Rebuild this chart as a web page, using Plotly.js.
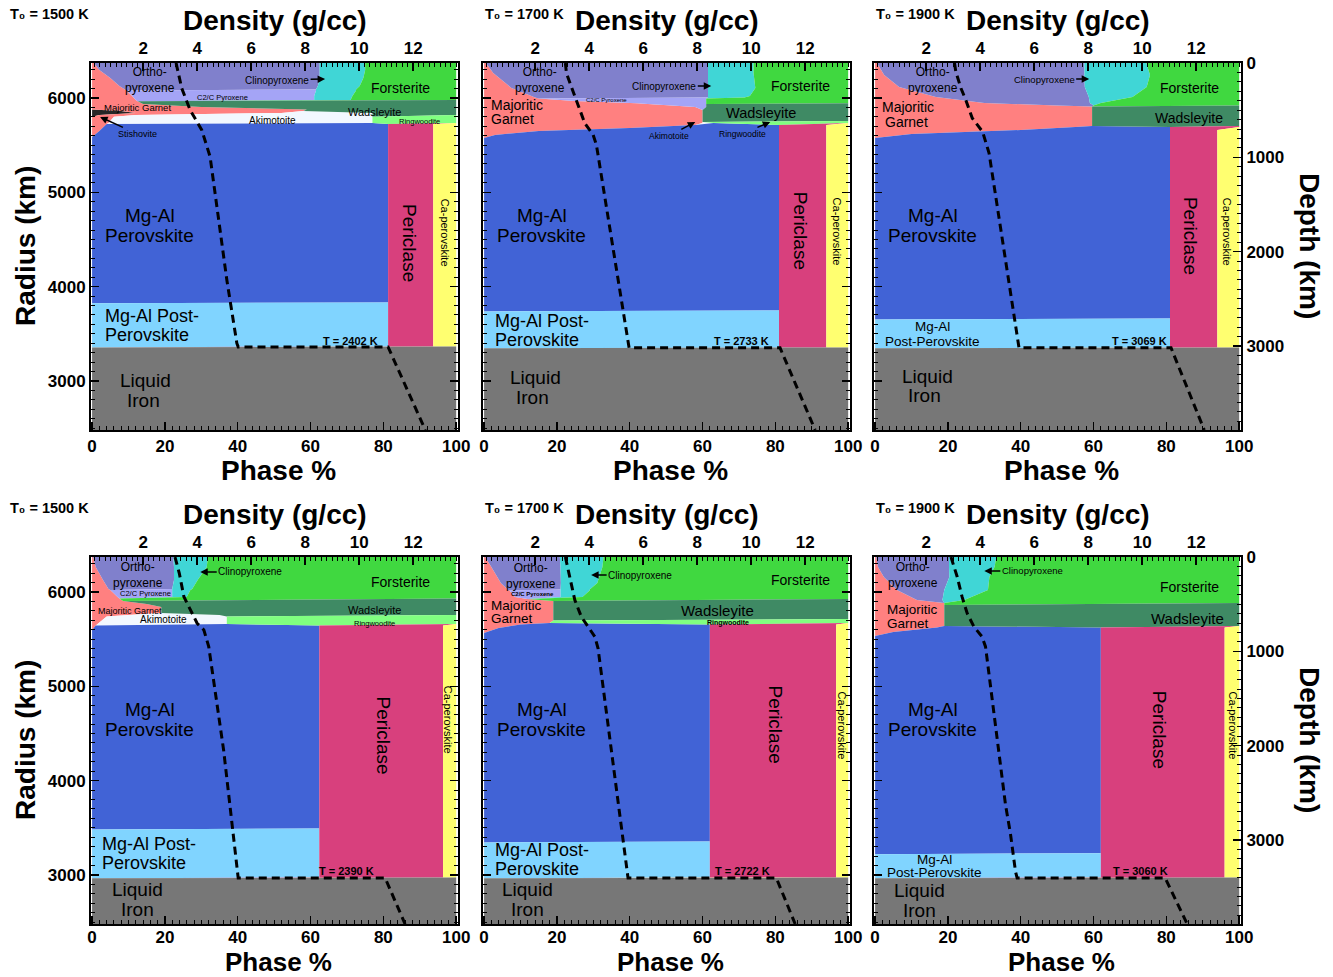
<!DOCTYPE html>
<html><head><meta charset="utf-8">
<script src="https://cdn.plot.ly/plotly-3.0.1.min.js"></script>
<style>html,body{margin:0;padding:0;background:#fff}#chart{width:1333px;height:977px}</style>
</head><body><div id="chart"></div>
<script>
// ===== DATA: phase fractions (%) vs radius (km), and density (g/cc) profiles =====
// Panel 1: T0 = 1500 K (top row)
const p1_radius = [6371,6297,6212,6127,6090, 6080,6021,5979,5965,5936, 5905,5878,5862,5841,5820, 5800,5735,5725,5650,5587, 3832,3822,3365,3355,2479];
const p1_stishovite = [0,0,0,0,0, 0,0,0,0,0, 0,0,8,12,2, 0,0,0,0,0, 0,0,0,0,0];
const p1_garnet = [0.5,2,5,7.5,9, 9.5,11,12,12.5,14, 30,59,50,40,10, 6,4.5,4,2,0, 0,0,0,0,0];
const p1_opx = [62,60.5,57.5,54.5,52.5, 0,0,0,0,0, 0,0,0,0,0, 0,0,0,0,0, 0,0,0,0,0];
const p1_c2c = [0,0,0,0,0, 52,50,49,0,0, 0,0,0,0,0, 0,0,0,0,0, 0,0,0,0,0];
const p1_cpx = [12.5,12.5,12,11.5,11, 11,10.5,10,0,0, 0,0,0,0,0, 0,0,0,0,0, 0,0,0,0,0];
const p1_aki = [0,0,0,0,0, 0,0,0,0,0, 0,0,0,25,65, 71,72.5,0,0,0, 0,0,0,0,0];
const p1_pv = [0,0,0,0,0, 0,0,0,0,0, 0,0,0,0,0, 0,0,77.3,79.3,81.3, 81.3,0,0,0,0];
const p1_ppv = [0,0,0,0,0, 0,0,0,0,0, 0,0,0,0,0, 0,0,0,0,0, 0,81.3,81.3,0,0];
const p1_fo = [25,25,25.5,26.5,27.5, 27.5,28.5,29,0,0, 0,0,0,0,0, 0,0,0,0,0, 0,0,0,0,0];
const p1_wad = [0,0,0,0,0, 0,0,0,87.5,86, 70,41,42,23,23, 0,0,0,0,0, 0,0,0,0,0];
const p1_ring = [0,0,0,0,0, 0,0,0,0,0, 0,0,0,0,0, 23,23,0,0,0, 0,0,0,0,0];
const p1_per = [0,0,0,0,0, 0,0,0,0,0, 0,0,0,0,0, 0,0,12.4,12.4,12.4, 12.4,12.4,12.4,0,0];
const p1_capv = [0,0,0,0,0, 0,0,0,0,0, 0,0,0,0,0, 0,0,6.3,6.3,6.3, 6.3,6.3,6.3,0,0];
const p1_fe = [0,0,0,0,0, 0,0,0,0,0, 0,0,0,0,0, 0,0,0,0,0, 0,0,0,100,100];
const p1_dens_radius = [6371,6103,5873,5661,5378,4070,3400,3360,3360,2479];
const p1_density = [3.22,3.43,3.74,4.17,4.48,5.10,5.47,5.52,11.07,12.45];

// Panel 2: T0 = 1700 K (top row)
const p2_radius = [6371,6265,6106,6021,6005, 5995,5968,5945,5936,5905, 5873,5756,5746,5735,5714, 5682,5650,5608,5576,3747, 3737,3355,3345,2479];
const p2_garnet = [0.5,2.5,7.5,13,14, 15,25,42,45,58, 60,60,60,60,58, 40,15,3,0,0, 0,0,0,0];
const p2_opx = [61,59,54,48.5,47.5, 0,0,0,0,0, 0,0,0,0,0, 0,0,0,0,0, 0,0,0,0];
const p2_c2c = [0,0,0,0,0, 46,36,19,16,3, 0,0,0,0,0, 0,0,0,0,0, 0,0,0,0];
const p2_cpx = [12.5,12.5,13,11.5,10, 0,0,0,0,0, 0,0,0,0,0, 0,0,0,0,0, 0,0,0,0];
const p2_aki = [0,0,0,0,0, 0,0,0,0,0, 0,0,0,3,0, 0,0,0,0,0, 0,0,0,0];
const p2_pv = [0,0,0,0,0, 0,0,0,0,0, 0,0,0,0,23, 41,66,78,81,81, 0,0,0,0];
const p2_ppv = [0,0,0,0,0, 0,0,0,0,0, 0,0,0,0,0, 0,0,0,0,0, 81,81,0,0];
const p2_fo = [26,26,25.5,27,28.5, 39,39,39,0,0, 0,0,0,0,0, 0,0,0,0,0, 0,0,0,0];
const p2_wad = [0,0,0,0,0, 0,0,0,39,39, 40,40,0,0,0, 0,0,0,0,0, 0,0,0,0];
const p2_ring = [0,0,0,0,0, 0,0,0,0,0, 0,0,40,37,0, 0,0,0,0,0, 0,0,0,0];
const p2_per = [0,0,0,0,0, 0,0,0,0,0, 0,0,0,0,13, 13,13,13,13,13, 13,13,0,0];
const p2_capv = [0,0,0,0,0, 0,0,0,0,0, 0,0,0,0,6, 6,6,6,6,6, 6,6,0,0];
const p2_fe = [0,0,0,0,0, 0,0,0,0,0, 0,0,0,0,0, 0,0,0,0,0, 0,0,100,100];
const p2_dens_radius = [6371,6262,6120,5979,5732,5608,5502,3350,3350,2479];
const p2_density = [3.12,3.16,3.34,3.53,3.84,4.15,4.27,5.48,11.07,12.37];

// Panel 3: T0 = 1900 K (top row)
const p3_radius = [6371,6244,6117,6011,5947, 5920,5910,5703,5693,5661, 5618,5576,3662,3652,3355, 3345,2479];
const p3_garnet = [0.5,2.5,6.6,16.7,30, 50,59.6,59.6,55,40, 10,0,0,0,0, 0,0];
const p3_opx = [57,55,51,42,29, 10,0,0,0,0, 0,0,0,0,0, 0,0];
const p3_cpx = [17,18,17,12,3, 0,0,0,0,0, 0,0,0,0,0, 0,0];
const p3_pv = [0,0,0,0,0, 0,0,0,26,41, 71,81,81,0,0, 0,0];
const p3_ppv = [0,0,0,0,0, 0,0,0,0,0, 0,0,0,81,81, 0,0];
const p3_fo = [25.5,24.5,25.4,29.3,38, 40,0,0,0,0, 0,0,0,0,0, 0,0];
const p3_wad = [0,0,0,0,0, 0,40.4,40.4,0,0, 0,0,0,0,0, 0,0];
const p3_per = [0,0,0,0,0, 0,0,0,19,13, 13,13,13,13,13, 0,0];
const p3_capv = [0,0,0,0,0, 0,0,0,0,6, 6,6,6,6,6, 0,0];
const p3_fe = [0,0,0,0,0, 0,0,0,0,0, 0,0,0,0,0, 100,100];
const p3_dens_radius = [6371,6279,6103,5979,5785,5643,5417,3350,3350,2479];
const p3_density = [3.05,3.10,3.29,3.47,3.71,4.09,4.33,5.44,11.07,12.30];

// Panel 4: T0 = 1500 K (bottom row)
const p4_radius = [6371,6265,6127,6032,6021, 5947,5931,5905,5873,5841, 5777,5756,5740,5661,5645, 5597,3492,3482,2973,2963, 2479];
const p4_garnet = [0.3,1,3,4.5,5, 7,7.5,8.5,15,19, 19,10,4,1.5,1, 0,0,0,0,0, 0];
const p4_opx = [22,21.5,19.5,17.5,0, 0,0,0,0,0, 0,0,0,0,0, 0,0,0,0,0, 0];
const p4_c2c = [0,0,0,0,17, 15,0,0,0,0, 0,0,0,0,0, 0,0,0,0,0, 0];
const p4_cpx = [9.5,9,6.5,5.5,5, 4,0,0,0,0, 0,0,0,0,0, 0,0,0,0,0, 0];
const p4_aki = [0,0,0,0,0, 0,0,0,0,0, 0,25,33,35.5,0, 0,0,0,0,0, 0];
const p4_pv = [0,0,0,0,0, 0,0,0,0,0, 0,0,0,0,61.4, 62.4,62.4,0,0,0, 0];
const p4_ppv = [0,0,0,0,0, 0,0,0,0,0, 0,0,0,0,0, 0,0,62.4,62.4,0, 0];
const p4_fo = [68.2,68.5,71,72.5,73, 74,92.5,0,0,0, 0,0,0,0,0, 0,0,0,0,0, 0];
const p4_wad = [0,0,0,0,0, 0,0,91.5,85,81, 81,65,0,0,0, 0,0,0,0,0, 0];
const p4_ring = [0,0,0,0,0, 0,0,0,0,0, 0,0,63,63,0, 0,0,0,0,0, 0];
const p4_per = [0,0,0,0,0, 0,0,0,0,0, 0,0,0,0,34, 34,34,34,34,0, 0];
const p4_capv = [0,0,0,0,0, 0,0,0,0,0, 0,0,0,0,3.6, 3.6,3.6,3.6,3.6,0, 0];
const p4_fe = [0,0,0,0,0, 0,0,0,0,0, 0,0,0,0,0, 0,0,0,0,100, 100];
const p4_dens_radius = [6371,6198,5950,5809,5668,5597,5420,4325,2968,2968,2479];
const p4_density = [3.18,3.34,3.51,3.75,4.00,4.25,4.43,4.98,5.52,10.96,11.70];

// Panel 5: T0 = 1700 K (bottom row)
const p5_radius = [6371,6265,6095,6027,6016, 5947,5926,5905,5714,5698, 5671,5655,5618,5565,3354, 3344,2973,2963,2479];
const p5_garnet = [0.3,2,4.6,6.5,7, 8.5,12,19,19,19, 18,10,4,0,0, 0,0,0,0];
const p5_opx = [20.5,19,16.5,14.5,0, 0,0,0,0,0, 0,0,0,0,0, 0,0,0,0];
const p5_c2c = [0,0,0,0,14, 12.5,0,0,0,0, 0,0,0,0,0, 0,0,0,0];
const p5_cpx = [12,11.5,10,8,8, 6,0,0,0,0, 0,0,0,0,0, 0,0,0,0];
const p5_pv = [0,0,0,0,0, 0,0,0,0,0, 0,52,58,62,62, 0,0,0,0];
const p5_ppv = [0,0,0,0,0, 0,0,0,0,0, 0,0,0,0,0, 62,62,0,0];
const p5_fo = [67.2,67.5,68.9,71,71, 73,88,0,0,0, 0,0,0,0,0, 0,0,0,0];
const p5_wad = [0,0,0,0,0, 0,0,81,81,0, 0,0,0,0,0, 0,0,0,0];
const p5_ring = [0,0,0,0,0, 0,0,0,0,81, 82,0,0,0,0, 0,0,0,0];
const p5_per = [0,0,0,0,0, 0,0,0,0,0, 0,34.7,34.7,34.7,34.7, 34.7,34.7,0,0];
const p5_capv = [0,0,0,0,0, 0,0,0,0,0, 0,3.3,3.3,3.3,3.3, 3.3,3.3,0,0];
const p5_fe = [0,0,0,0,0, 0,0,0,0,0, 0,0,0,0,0, 0,0,100,100];
const p5_dens_radius = [6371,6162,5915,5738,5632,5526,5403,2968,2968,2479];
const p5_density = [3.12,3.28,3.47,3.71,3.96,4.21,4.33,5.44,10.93,11.63];

// Panel 6: T0 = 1900 K (bottom row)
const p6_radius = [6371,6265,6159,6021,5915, 5883,5862,5640,5624,5576, 5534,3230,3220,2973,2963, 2479];
const p6_garnet = [0.3,0.8,2.4,6,11.5, 19,19,19,17,5, 0,0,0,0,0, 0];
const p6_opx = [20,19.5,18,13,7, 0,0,0,0,0, 0,0,0,0,0, 0];
const p6_cpx = [13,12.5,11,12,6, 0,0,0,0,0, 0,0,0,0,0, 0];
const p6_pv = [0,0,0,0,0, 0,0,0,45,57, 62,62,0,0,0, 0];
const p6_ppv = [0,0,0,0,0, 0,0,0,0,0, 0,0,62,62,0, 0];
const p6_fo = [66.7,67.2,68.6,69,75.5, 81,0,0,0,0, 0,0,0,0,0, 0];
const p6_wad = [0,0,0,0,0, 0,81,81,0,0, 0,0,0,0,0, 0];
const p6_per = [0,0,0,0,0, 0,0,0,34,34, 34,34,34,34,0, 0];
const p6_capv = [0,0,0,0,0, 0,0,0,4,4, 4,4,4,4,0, 0];
const p6_fe = [0,0,0,0,0, 0,0,0,0,0, 0,0,0,0,100, 100];
const p6_dens_radius = [6371,6162,5950,5774,5632,5526,5420,3742,3442,3035,2968,2968,2479];
const p6_density = [2.92,3.15,3.33,3.52,3.77,4.07,4.20,4.94,5.12,5.31,5.37,10.85,11.67];

const startTemps = ['1500','1700','1900','1500','1700','1900'];
const cmbTemps = ['2402','2733','3069','2390','2722','3060'];
const PLANET_RADIUS = 6371;
const RADIUS_MIN = 2479;

// ===== Assemble =====
const PHASES = [
  {key:'stish', name:'Stishovite', color:'#262626'},
  {key:'garnet', name:'Majoritic Garnet', color:'#FF8080'},
  {key:'opx', name:'Orthopyroxene', color:'#8080CC'},
  {key:'c2c', name:'C2/C Pyroxene', color:'#A4A4F6'},
  {key:'cpx', name:'Clinopyroxene', color:'#40D6D6'},
  {key:'aki', name:'Akimotoite', color:'#F2F8FF'},
  {key:'pv', name:'Mg-Al Perovskite', color:'#4163D6'},
  {key:'ppv', name:'Mg-Al Post-Perovskite', color:'#80D4FF'},
  {key:'fo', name:'Forsterite', color:'#40D840'},
  {key:'wad', name:'Wadsleyite', color:'#3F8A64'},
  {key:'ring', name:'Ringwoodite', color:'#80FF80'},
  {key:'per', name:'Periclase', color:'#D8407D'},
  {key:'capv', name:'Ca-perovskite', color:'#FFFF70'},
  {key:'fe', name:'Liquid Iron', color:'#777777'}
];

const panels = [
  {r:p1_radius, parts:{stish:p1_stishovite, garnet:p1_garnet, opx:p1_opx, c2c:p1_c2c, cpx:p1_cpx, aki:p1_aki, pv:p1_pv, ppv:p1_ppv, fo:p1_fo, wad:p1_wad, ring:p1_ring, per:p1_per, capv:p1_capv, fe:p1_fe}, dr:p1_dens_radius, dd:p1_density},
  {r:p2_radius, parts:{garnet:p2_garnet, opx:p2_opx, c2c:p2_c2c, cpx:p2_cpx, aki:p2_aki, pv:p2_pv, ppv:p2_ppv, fo:p2_fo, wad:p2_wad, ring:p2_ring, per:p2_per, capv:p2_capv, fe:p2_fe}, dr:p2_dens_radius, dd:p2_density},
  {r:p3_radius, parts:{garnet:p3_garnet, opx:p3_opx, cpx:p3_cpx, pv:p3_pv, ppv:p3_ppv, fo:p3_fo, wad:p3_wad, per:p3_per, capv:p3_capv, fe:p3_fe}, dr:p3_dens_radius, dd:p3_density},
  {r:p4_radius, parts:{garnet:p4_garnet, opx:p4_opx, c2c:p4_c2c, cpx:p4_cpx, aki:p4_aki, pv:p4_pv, ppv:p4_ppv, fo:p4_fo, wad:p4_wad, ring:p4_ring, per:p4_per, capv:p4_capv, fe:p4_fe}, dr:p4_dens_radius, dd:p4_density},
  {r:p5_radius, parts:{garnet:p5_garnet, opx:p5_opx, c2c:p5_c2c, cpx:p5_cpx, pv:p5_pv, ppv:p5_ppv, fo:p5_fo, wad:p5_wad, ring:p5_ring, per:p5_per, capv:p5_capv, fe:p5_fe}, dr:p5_dens_radius, dd:p5_density},
  {r:p6_radius, parts:{garnet:p6_garnet, opx:p6_opx, cpx:p6_cpx, pv:p6_pv, ppv:p6_ppv, fo:p6_fo, wad:p6_wad, per:p6_per, capv:p6_capv, fe:p6_fe}, dr:p6_dens_radius, dd:p6_density}
];

const W = 1333, H = 977;
const FONT = 'Liberation Sans, Arial, Helvetica, sans-serif';
const TF = {family:FONT, size:17, color:'#000', weight:'bold'};
const colLeft = [91, 483, 874];
const rowTop = [63, 557];
const t0Left = [8, 483, 874];
const PW = 367, PH = 367;

const axId = (base, n) => n === 1 ? base : base + n;
const traces = [];
const layout = {
  width:W, height:H, margin:{l:0,r:0,t:0,b:0},
  paper_bgcolor:'#ffffff', plot_bgcolor:'#ffffff', showlegend:false,
  font:{family:FONT, color:'#000'}, annotations:[]
};
function paperText(px, py, text, size, extra) {
  layout.annotations.push(Object.assign({xref:'paper', yref:'paper', x:px / W, y:1 - py / H, text:text,
    showarrow:false, font:{size:size, family:FONT, color:'#000'}, xanchor:'center', yanchor:'middle'}, extra || {}));
}

panels.forEach((p, i) => {
  const col = i % 3, row = Math.floor(i / 3);
  const xa = axId('x', i+1), ya = axId('y', i+1), xd = 'x' + (i+7);
  PHASES.forEach(ph => {
    const vals = p.parts[ph.key] || p.r.map(() => 0);
    traces.push({type:'scatter', x:vals, y:p.r, xaxis:xa, yaxis:ya, stackgroup:'g'+i, orientation:'h',
      mode:'none', fillcolor:ph.color, name:ph.name, showlegend:false, hoverinfo:'skip'});
  });
  traces.push({type:'scatter', x:p.dd, y:p.dr, xaxis:xd, yaxis:ya, mode:'lines',
    line:{color:'#000', width:3, dash:'8px,5px'}, name:'Density', showlegend:false, hoverinfo:'skip'});

  const x0 = colLeft[col], y0 = rowTop[row];
  const xdom = [x0 / W, (x0 + PW) / W];
  const ydom = [1 - (y0 + PH) / H, 1 - y0 / H];
  const common = {ticks:'inside', ticklen:8, tickwidth:1.5, tickcolor:'#000', showline:true, linewidth:2, linecolor:'#000',
    showgrid:false, zeroline:false, tickfont:TF, fixedrange:true};
  const minor = d => ({dtick:d, ticks:'inside', ticklen:4, tickwidth:1, tickcolor:'#000'});
  layout['xaxis' + (i===0?'':(i+1))] = Object.assign({}, common, {domain:xdom, anchor:ya, range:[-0.3,100.5],
    tick0:0, dtick:20, minor:minor(2), ticklabelstandoff: row === 1 ? -3 : 0});
  layout['xaxis' + (i+7)] = Object.assign({}, common, {overlaying:xa, side:'top', anchor:ya, range:[0.07,13.66],
    tick0:0, dtick:2, minor:minor(0.2)});
  layout['yaxis' + (i===0?'':(i+1))] = Object.assign({}, common, {domain:ydom, anchor:xa, range:[RADIUS_MIN, PLANET_RADIUS],
    tick0:0, dtick:1000, showticklabels: col === 0, mirror: col < 2 ? 'ticks' : true, minor:minor(100)});
  if (col === 2) {
    const dn = row === 0 ? 7 : 8;
    layout['yaxis' + dn] = Object.assign({}, common, {overlaying:ya, side:'right', anchor:xa,
      range:[PLANET_RADIUS - RADIUS_MIN, 0], tick0:0, dtick:1000, minor:minor(100)});
    traces.push({type:'scatter', x:[], y:[], xaxis:xa, yaxis:'y' + dn, mode:'lines', showlegend:false, hoverinfo:'skip'});
  }

  // titles
  paperText(x0 + PW/2, y0 - 43, '<b>Density (g/cc)</b>', 28);
  paperText(x0 + PW/2 + 4, y0 + PH + (row === 0 ? 40 : 38), '<b>Phase %</b>', row === 0 ? 28 : 26);
  paperText(t0Left[col], y0 - 49, '<b>T\u2080 = ' + startTemps[i] + ' K</b>', 14.5, {xanchor:'left'});
  if (col === 0) paperText(25, y0 + 183, '<b>Radius (km)</b>', 28, {textangle:-90});
  if (col === 2) paperText(1310, y0 + 183, '<b>Depth (km)</b>', 28, {textangle:90});
});

// region labels (positions in phase % / radius km of each panel)
function lab(i, text, x, r, size, extra) {
  layout.annotations.push(Object.assign({xref:axId('x', i+1), yref:axId('y', i+1), x:x, y:r, text:text, showarrow:false,
    font:{size:size, family:FONT, color:'#000'}, xanchor:'center', yanchor:'middle'}, extra || {}));
}
function arrowLab(i, text, x, r, size, ax, ay) {
  lab(i, text, x, r, size, {showarrow:true, arrowhead:2, arrowsize:1, arrowwidth:1.5, arrowcolor:'#000', ax:ax, ay:ay, standoff:0});
}
const rot = {textangle:90};
const L = {xanchor:'left'};
// Panel 1
lab(0,'Ortho-<br>pyroxene',16,6191,12);
arrowLab(0,'Clinopyroxene',64,6201,10,-48,1);
lab(0,'Forsterite',84.6,6106,14);
lab(0,'C2/C Pyroxene',35.7,6000,7.5);
lab(0,'Majoritic Garnet',12.6,5894,9.5);
lab(0,'Wadsleyite',77.5,5852,11);
lab(0,'Ringwoodite',90,5746,7.5);
lab(0,'Akimotoite',49.5,5756,10);
arrowLab(0,'Stishovite',2.2,5799,9,37,17);
lab(0,'Mg-Al',15.9,4749,19); lab(0,'Perovskite',15.9,4537,19);
lab(0,'Periclase',87,4463,19,rot);
lab(0,'Ca-perovskite',97,4569,11,rot);
lab(0,'Mg-Al Post-',3.0,3689,18,L); lab(0,'Perovskite',3.0,3488,18,L);
lab(0,'Liquid',14.8,3000,19); lab(0,'Iron',14.0,2788,19);
lab(0,'<b>T = '+cmbTemps[0]+' K</b>',70.9,3424,11);
// Panel 2
lab(1,'Ortho-<br>pyroxene',15.4,6191,12);
arrowLab(1,'Clinopyroxene',62.4,6127,10,-47,0);
lab(1,'Forsterite',86.8,6127,14);
lab(1,'Majoritic',1.4,5926,14,L); lab(1,'Garnet',1.4,5777,14,L);
lab(1,'C2/C Pyroxene',33.5,5979,6);
lab(1,'Wadsleyite',76,5841,14.5);
arrowLab(1,'Akimotoite',58,5746,8.5,-26,14);
arrowLab(1,'Ringwoodite',78.6,5746,8.5,-28,12);
lab(1,'Mg-Al',15.9,4749,19); lab(1,'Perovskite',15.9,4537,19);
lab(1,'Periclase',86.8,4590,19,rot);
lab(1,'Ca-perovskite',97,4580,11,rot);
lab(1,'Mg-Al Post-',2.5,3636,18,L); lab(1,'Perovskite',2.5,3435,18,L);
lab(1,'Liquid',14.0,3032,19); lab(1,'Iron',13.2,2820,19);
lab(1,'<b>T = '+cmbTemps[1]+' K</b>',70.6,3424,11);
// Panel 3
lab(2,'Ortho-<br>pyroxene',15.8,6191,12);
arrowLab(2,'Clinopyroxene',58.8,6201,9.5,-45,0);
lab(2,'Forsterite',86.3,6106,14);
lab(2,'Majoritic',1.4,5905,14,L); lab(2,'Garnet',2.2,5746,14,L);
lab(2,'Wadsleyite',86.3,5788,14);
lab(2,'Mg-Al',15.9,4749,19); lab(2,'Perovskite',15.9,4537,19);
lab(2,'Periclase',86.5,4537,19,rot);
lab(2,'Ca-perovskite',96.7,4580,11,rot);
lab(2,'Mg-Al',15.9,3573,13.5); lab(2,'Post-Perovskite',15.7,3414,13.5);
lab(2,'Liquid',14.3,3043,19); lab(2,'Iron',13.7,2841,19);
lab(2,'<b>T = '+cmbTemps[2]+' K</b>',72.5,3424,11);
// Panel 4
lab(3,'Ortho-<br>pyroxene',12.5,6185,12);
arrowLab(3,'Clinopyroxene',29.7,6212,10,50,0);
lab(3,'Forsterite',84.6,6106,14);
lab(3,'C2/C Pyroxene',14.6,5979,7.5);
lab(3,'Majoritic Garnet',10.4,5799,9);
lab(3,'Akimotoite',19.5,5703,10);
lab(3,'Wadsleyite',77.5,5809,11);
lab(3,'Ringwoodite',77.7,5671,7.5);
lab(3,'Mg-Al',15.9,4749,19); lab(3,'Perovskite',15.9,4537,19);
lab(3,'Periclase',80,4474,19,rot);
lab(3,'Ca-perovskite',97.8,4643,11,rot);
lab(3,'Mg-Al Post-',2.2,3329,18,L); lab(3,'Perovskite',2.2,3127,18,L);
lab(3,'Liquid',12.6,2841,19); lab(3,'Iron',12.6,2629,19);
lab(3,'<b>T = '+cmbTemps[3]+' K</b>',70,3043,11);
// Panel 5
lab(4,'Ortho-<br>pyroxene',12.8,6165,12);
lab(4,'<b>C2/C Pyroxene</b>',13.2,5979,6);
arrowLab(4,'Clinopyroxene',29.4,6180,10,49,0);
lab(4,'Forsterite',86.8,6127,14);
lab(4,'Majoritic',1.4,5862,13.5,L); lab(4,'Garnet',1.4,5714,13.5,L);
lab(4,'Wadsleyite',64,5799,15);
lab(4,'<b>Ringwoodite</b>',67,5671,7);
lab(4,'Mg-Al',15.9,4749,19); lab(4,'Perovskite',15.9,4537,19);
lab(4,'Periclase',80,4590,19,rot);
lab(4,'Ca-perovskite',98.4,4580,11,rot);
lab(4,'Mg-Al Post-',2.5,3265,18,L); lab(4,'Perovskite',2.5,3064,18,L);
lab(4,'Liquid',11.8,2841,19); lab(4,'Iron',11.8,2629,19);
lab(4,'<b>T = '+cmbTemps[4]+' K</b>',70.9,3043,11);
// Panel 6
lab(5,'Ortho-<br>pyroxene',10.3,6185,12);
arrowLab(5,'Clinopyroxene',30,6223,9.5,48,0);
lab(5,'Forsterite',86.3,6053,14);
lab(5,'Majoritic',2.7,5809,13.5,L); lab(5,'Garnet',2.7,5661,13.5,L);
lab(5,'Wadsleyite',85.7,5724,15);
lab(5,'Mg-Al',15.9,4749,19); lab(5,'Perovskite',15.9,4537,19);
lab(5,'Periclase',78,4537,19,rot);
lab(5,'Ca-perovskite',98.4,4580,11,rot);
lab(5,'Mg-Al',16.2,3159,13.5); lab(5,'Post-Perovskite',16.2,3021,13.5);
lab(5,'Liquid',12.1,2831,19); lab(5,'Iron',12.1,2619,19);
lab(5,'<b>T = '+cmbTemps[5]+' K</b>',72.8,3043,11);

Plotly.newPlot('chart', traces, layout, {staticPlot:true, displayModeBar:false});
</script></body></html>
